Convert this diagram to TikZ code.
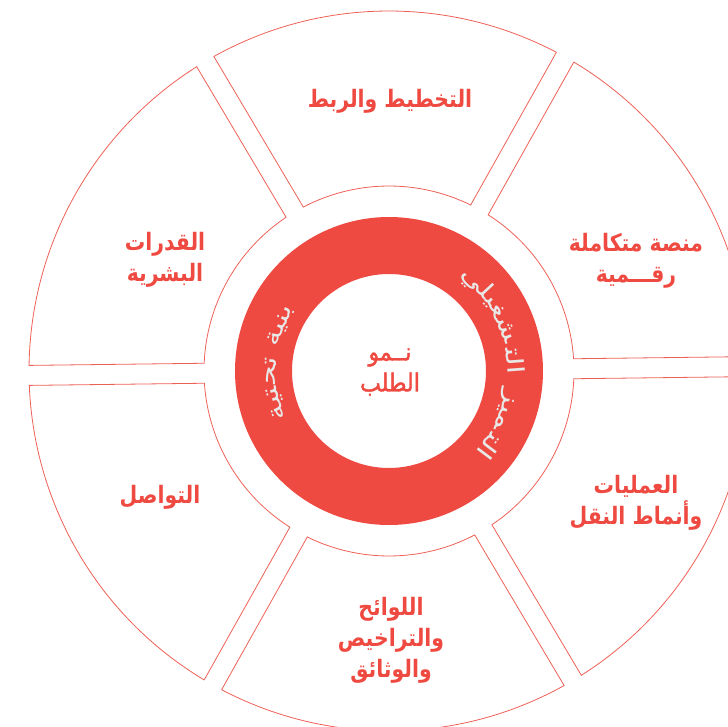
\documentclass[tikz,border=0pt]{standalone}
\usepackage{fontspec}
\newfontfamily\arabicfont[Script=Arabic, FakeStretch=0.85]{DejaVu Sans}
\newfontfamily\centrefont[Script=Arabic, FakeStretch=0.88, FakeBold=1.5]{DejaVu Sans}
\newfontfamily\ringfont[Script=Arabic, FakeStretch=1.31]{DejaVu Sans}
\TeXXeTstate=1
\definecolor{ringred}{RGB}{239,74,65}
\definecolor{linered}{RGB}{238,96,86}
\definecolor{ringtext}{RGB}{232,232,232}
\newcommand{\artext}[1]{\beginR #1\endR}
\newcommand{\zwj}{^^^^200d}

\tikzset{
  segment/.style={draw=linered, line width=0.8pt},
  seglabel/.style={text=ringred, align=center, font=\arabicfont\bfseries\fontsize{24}{31}\selectfont},
  centrelabel/.style={text=ringred, align=center, font=\centrefont\fontsize{25}{31}\selectfont},
  ringword/.style={text=ringtext, inner sep=0pt, anchor=base, font=\ringfont\fontsize{23}{30}\selectfont},
}

\begin{document}
\begin{tikzpicture}[x=1pt,y=1pt]
      \def \rin {185}
      \def \rout {360}
      \def \gap {10} % half the gap between two segments
      \def \tilt {0.7}

      \useasboundingbox (-389,-355) rectangle (339,371);
      \clip (-389,-355) rectangle (339,371);

      \foreach \s in {0,...,5}
      {
        \pgfmathsetmacro\aout{\tilt + 60*\s + asin(\gap/\rout)}
        \pgfmathsetmacro\bout{\tilt + 60*(\s+1) - asin(\gap/\rout)}
        \pgfmathsetmacro\ain{\tilt + 60*\s + asin(\gap/\rin)}
        \pgfmathsetmacro\bin{\tilt + 60*(\s+1) - asin(\gap/\rin)}
        \draw[segment] (\aout:\rout pt) arc[start angle=\aout, end angle=\bout, radius=\rout pt]
          -- (\bin:\rin pt) arc[start angle=\bin, end angle=\ain, radius=\rin pt] -- cycle;
      }
      \fill[ringred, even odd rule] (0,0) circle[radius=154pt] (0,0) circle[radius=97pt];

      \node[seglabel] (plan) at (1,270) {\artext{التخطيط والربط}};
      \node[seglabel] (platform) at (247,110) {\artext{منصة متكاملة}\\\artext{رقـــمية}};
      \node[seglabel] (operations) at (247,-132) {\artext{العمليات}\\\artext{وأنماط النقل}};
      \node[seglabel] (rules) at (2,-269) {\artext{اللوائح}\\\artext{والتراخيص}\\\artext{والوثائق}};
      \node[seglabel] (comms) at (-229,-126) {\artext{التواصل}};
      \node[seglabel] (people) at (-224,111) {\artext{القدرات}\\\artext{البشرية}};
      \node[centrelabel] (demand) at (1,-1) {\artext{نــمو}\\\artext{الطلب}};

      % ring words, cut in pieces that follow the circle
      \foreach \a/\w [count=\i] in {-36.9/الت\zwj, -18.7/\zwj ميز, 4.4/الت\zwj, 22.9/\zwj شغ\zwj, 42.9/\zwj يلي}
        \node[ringword, rotate=\a-90] (excel\i) at (\a:118) {\artext{\w}};
      \foreach \a/\w [count=\i] in {157.6/بنية, 179.8/تح\zwj, 195.9/\zwj تية}
        \node[ringword, rotate=\a-90] (infra\i) at (\a:113) {\artext{\w}};
\end{tikzpicture}
\end{document}
